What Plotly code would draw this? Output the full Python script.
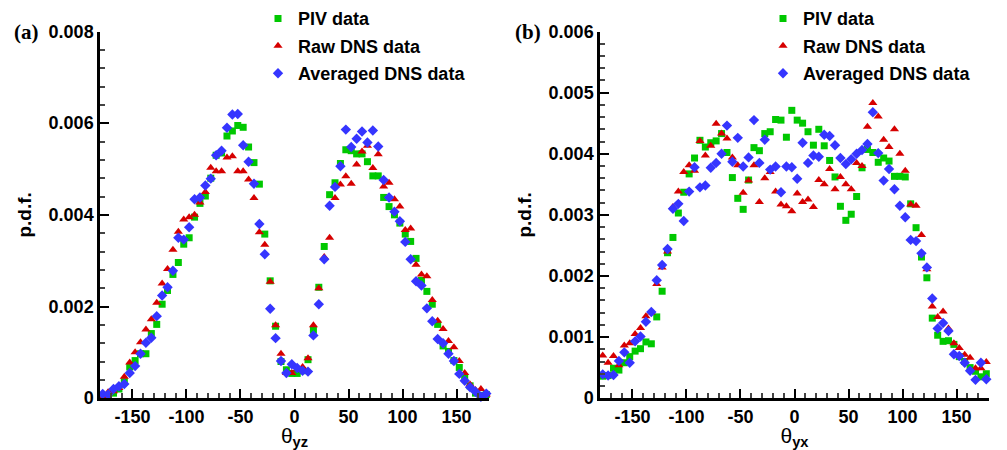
import plotly.graph_objects as go

THETA = [-177.5, -172.5, -167.5, -162.5, -157.5, -152.5, -147.5, -142.5, -137.5, -132.5,
         -127.5, -122.5, -117.5, -112.5, -107.5, -102.5, -97.5, -92.5, -87.5, -82.5,
         -77.5, -72.5, -67.5, -62.5, -57.5, -52.5, -47.5, -42.5, -37.5, -32.5,
         -27.5, -22.5, -17.5, -12.5, -7.5, -2.5, 2.5, 7.5, 12.5, 17.5,
         22.5, 27.5, 32.5, 37.5, 42.5, 47.5, 52.5, 57.5, 62.5, 67.5,
         72.5, 77.5, 82.5, 87.5, 92.5, 97.5, 102.5, 107.5, 112.5, 117.5,
         122.5, 127.5, 132.5, 137.5, 142.5, 147.5, 152.5, 157.5, 162.5, 167.5,
         172.5, 177.5]

# Panel (a): theta_yz
PIV_A = [0.00005, 0.00005, 0.00011, 0.00020, 0.00036, 0.00068, 0.00082, 0.00097, 0.00097, 0.00141,
         0.00161, 0.00205, 0.00235, 0.00270, 0.00296, 0.00336, 0.00350, 0.00395, 0.00425, 0.00441,
         0.00480, 0.00530, 0.00535, 0.00572, 0.00583, 0.00595, 0.00591, 0.00548, 0.00514, 0.00467,
         0.00358, 0.00256, 0.00157, 0.00080, 0.00062, 0.00054, 0.00054, 0.00060, 0.00084, 0.00148,
         0.00242, 0.00331, 0.00444, 0.00470, 0.00512, 0.00542, 0.00540, 0.00533, 0.00533, 0.00516,
         0.00485, 0.00485, 0.00438, 0.00418, 0.00400, 0.00382, 0.00358, 0.00342, 0.00305, 0.00257,
         0.00233, 0.00205, 0.00161, 0.00114, 0.00102, 0.00082, 0.00067, 0.00046, 0.00027, 0.00011,
         0.00006, 0.00008]
RAW_A = [0.00005, 0.00013, 0.00015, 0.00022, 0.00047, 0.00078, 0.00100, 0.00122, 0.00150, 0.00172,
         0.00208, 0.00250, 0.00282, 0.00324, 0.00363, 0.00390, 0.00395, 0.00400, 0.00427, 0.00450,
         0.00503, 0.00495, 0.00495, 0.00525, 0.00528, 0.00495, 0.00495, 0.00477, 0.00437, 0.00362,
         0.00335, 0.00254, 0.00159, 0.00097, 0.00055, 0.00055, 0.00063, 0.00068, 0.00087, 0.00159,
         0.00240, 0.00308, 0.00350, 0.00437, 0.00466, 0.00484, 0.00468, 0.00510, 0.00538, 0.00551,
         0.00502, 0.00532, 0.00462, 0.00470, 0.00434, 0.00418, 0.00367, 0.00370, 0.00291, 0.00270,
         0.00266, 0.00214, 0.00169, 0.00151, 0.00125, 0.00111, 0.00081, 0.00055, 0.00030, 0.00018,
         0.00020, 0.00008]
AVG_A = [0.00009, 0.00008, 0.00020, 0.00026, 0.00031, 0.00055, 0.00070, 0.00097, 0.00121, 0.00132,
         0.00179, 0.00224, 0.00242, 0.00278, 0.00350, 0.00346, 0.00373, 0.00434, 0.00438, 0.00464,
         0.00479, 0.00530, 0.00540, 0.00590, 0.00619, 0.00620, 0.00552, 0.00516, 0.00468, 0.00380,
         0.00314, 0.00195, 0.00131, 0.00081, 0.00055, 0.00074, 0.00066, 0.00060, 0.00058, 0.00137,
         0.00205, 0.00303, 0.00420, 0.00461, 0.00506, 0.00586, 0.00548, 0.00566, 0.00582, 0.00558,
         0.00584, 0.00549, 0.00476, 0.00438, 0.00407, 0.00386, 0.00341, 0.00303, 0.00255, 0.00246,
         0.00196, 0.00168, 0.00129, 0.00120, 0.00097, 0.00081, 0.00053, 0.00038, 0.00024, 0.00014,
         0.00003, 0.00010]

# Panel (b): theta_yx
PIV_B = [0.00036, 0.00037, 0.00049, 0.00046, 0.00058, 0.00068, 0.00077, 0.00081, 0.00092, 0.00089,
         0.00133, 0.00175, 0.00238, 0.00263, 0.00303, 0.00337, 0.00367, 0.00393, 0.00422, 0.00411,
         0.00418, 0.00421, 0.00433, 0.00402, 0.00361, 0.00327, 0.00309, 0.00357, 0.00410, 0.00405,
         0.00433, 0.00436, 0.00456, 0.00455, 0.00427, 0.00471, 0.00455, 0.00450, 0.00436, 0.00414,
         0.00440, 0.00413, 0.00389, 0.00362, 0.00314, 0.00291, 0.00301, 0.00330, 0.00377, 0.00407,
         0.00402, 0.00386, 0.00393, 0.00388, 0.00363, 0.00363, 0.00362, 0.00318, 0.00279, 0.00231,
         0.00197, 0.00131, 0.00103, 0.00093, 0.00094, 0.00088, 0.00068, 0.00060, 0.00050, 0.00044,
         0.00035, 0.00040]
RAW_B = [0.00070, 0.00058, 0.00069, 0.00054, 0.00086, 0.00090, 0.00105, 0.00115, 0.00134, 0.00140,
         0.00187, 0.00214, 0.00240, 0.00313, 0.00338, 0.00370, 0.00381, 0.00372, 0.00421, 0.00397,
         0.00413, 0.00449, 0.00433, 0.00425, 0.00394, 0.00381, 0.00336, 0.00356, 0.00381, 0.00321,
         0.00360, 0.00370, 0.00338, 0.00317, 0.00314, 0.00306, 0.00335, 0.00321, 0.00325, 0.00313,
         0.00357, 0.00350, 0.00375, 0.00342, 0.00362, 0.00350, 0.00342, 0.00385, 0.00380, 0.00444,
         0.00483, 0.00461, 0.00423, 0.00411, 0.00440, 0.00400, 0.00372, 0.00317, 0.00315, 0.00267,
         0.00211, 0.00150, 0.00133, 0.00142, 0.00114, 0.00090, 0.00082, 0.00071, 0.00066, 0.00049,
         0.00049, 0.00059]
AVG_B = [0.00039, 0.00037, 0.00038, 0.00061, 0.00075, 0.00058, 0.00093, 0.00101, 0.00125, 0.00141,
         0.00193, 0.00218, 0.00244, 0.00310, 0.00318, 0.00290, 0.00338, 0.00378, 0.00345, 0.00348,
         0.00377, 0.00385, 0.00400, 0.00446, 0.00387, 0.00426, 0.00379, 0.00394, 0.00455, 0.00385,
         0.00423, 0.00374, 0.00379, 0.00337, 0.00379, 0.00378, 0.00359, 0.00418, 0.00385, 0.00397,
         0.00395, 0.00431, 0.00429, 0.00414, 0.00393, 0.00383, 0.00391, 0.00400, 0.00406, 0.00416,
         0.00468, 0.00401, 0.00356, 0.00375, 0.00342, 0.00315, 0.00296, 0.00259, 0.00257, 0.00237,
         0.00214, 0.00163, 0.00114, 0.00123, 0.00110, 0.00072, 0.00069, 0.00058, 0.00045, 0.00030,
         0.00058, 0.00031]

SERIES_NAMES = ["PIV data", "Raw DNS data", "Averaged DNS data"]
X_TICKS = [-150, -100, -50, 0, 50, 100, 150]
X_TICKTEXT = ["-150", "-100", "-50", "0", "50", "100", "150"]
YA_TICKS = [0, 0.002, 0.004, 0.006, 0.008]
YA_TICKTEXT = ["0", "0.002", "0.004", "0.006", "0.008"]
YB_TICKS = [0, 0.001, 0.002, 0.003, 0.004, 0.005, 0.006]
YB_TICKTEXT = ["0", "0.001", "0.002", "0.003", "0.004", "0.005", "0.006"]

GREEN = "#00C800"
RED = "#D60000"
BLUE = "#3535FF"
FONT = "Liberation Sans, Arial, sans-serif"

styles = [
    dict(symbol="square", color=GREEN, size=7),
    dict(symbol="triangle-up", color=RED, size=8),
    dict(symbol="diamond", color=BLUE, size=8),
]

fig = go.Figure()
panels = [
    ([PIV_A, RAW_A, AVG_A], "x", "y", "legend"),
    ([PIV_B, RAW_B, AVG_B], "x2", "y2", "legend2"),
]
for p, (series, xa, ya, lg) in enumerate(panels):
    for i, (vals, name, st) in enumerate(zip(series, SERIES_NAMES, styles)):
        fig.add_trace(go.Scatter(
            x=THETA, y=vals, mode="markers", name=name,
            xaxis=xa, yaxis=ya, legend=lg, legendgroup=f"{lg}{i}",
            cliponaxis=False,
            marker=dict(symbol=st["symbol"], color=st["color"], size=st["size"],
                        line=dict(width=0)),
        ))

W, H = 1007, 450
ytop, ybot = 22, 397
ydom = [1 - ybot / H, 1 - ytop / H]

common_x = dict(
    range=[-180, 180], tickmode="array", tickvals=X_TICKS, ticktext=X_TICKTEXT,
    ticks="inside", ticklen=9, tickwidth=2, tickcolor="black", automargin=False,
    showline=True, linewidth=2.5, linecolor="black", showgrid=False, zeroline=False,
    tickfont=dict(family=FONT, size=18, color="black", weight="bold"),
    minor=dict(tickmode="linear", tick0=0, dtick=10, ticks="inside", ticklen=5,
               tickwidth=1.5, tickcolor="#444", showgrid=False),
    title=dict(standoff=4, font=dict(family=FONT, size=21, color="black")),
)
common_y = dict(
    ticks="inside", ticklen=9, tickwidth=2, tickcolor="black", tickmode="array",
    automargin=False,
    showline=True, linewidth=2.5, linecolor="black", showgrid=False, zeroline=False,
    tickfont=dict(family=FONT, size=18, color="black", weight="bold"),
    title=dict(text="<b>p.d.f.</b>", standoff=12, font=dict(family=FONT, size=19, color="black")),
)

xa1 = dict(common_x); xa1.update(domain=[100 / W, 489 / W], anchor="y")
xa1["title"] = dict(common_x["title"], text="θ<sub><b>yz</b></sub>")
xa2 = dict(common_x); xa2.update(domain=[600 / W, 989 / W], anchor="y2")
xa2["title"] = dict(common_x["title"], text="θ<sub><b>yx</b></sub>")

ya1 = dict(common_y); ya1.update(domain=ydom, range=[0, 0.008], tickvals=YA_TICKS,
                                 ticktext=YA_TICKTEXT, anchor="x",
                                 minor=dict(tickmode="linear", tick0=0, dtick=0.0004, ticks="inside",
                                            ticklen=5, tickwidth=1.5, tickcolor="#444", showgrid=False))
ya2 = dict(common_y); ya2.update(domain=ydom, range=[0, 0.006], tickvals=YB_TICKS,
                                 ticktext=YB_TICKTEXT, anchor="x2",
                                 minor=dict(tickmode="linear", tick0=0, dtick=0.0002, ticks="inside",
                                            ticklen=5, tickwidth=1.5, tickcolor="#444", showgrid=False))

legend_common = dict(
    yanchor="top", y=1 + 10 / H, xanchor="left", bgcolor="rgba(0,0,0,0)", borderwidth=0,
    font=dict(family=FONT, size=18, color="black", weight="bold"),
    tracegroupgap=1, itemclick=False, itemdoubleclick=False,
)

fig.update_layout(
    width=W, height=H, margin=dict(l=0, r=0, t=0, b=0),
    paper_bgcolor="white", plot_bgcolor="white",
    xaxis=xa1, yaxis=ya1, xaxis2=xa2, yaxis2=ya2,
    legend=dict(legend_common, x=258 / W),
    legend2=dict(legend_common, x=763 / W),
    showlegend=True,
    annotations=[
        dict(text="<b>(a)</b>", x=12 / W, y=1 - 22 / H, xref="paper", yref="paper",
             xanchor="left", yanchor="middle", showarrow=False,
             font=dict(family="Liberation Serif, Times New Roman, serif", size=21, color="black")),
        dict(text="<b>(b)</b>", x=513 / W, y=1 - 22 / H, xref="paper", yref="paper",
             xanchor="left", yanchor="middle", showarrow=False,
             font=dict(family="Liberation Serif, Times New Roman, serif", size=21, color="black")),
    ],
)

fig.write_html("out.html")
